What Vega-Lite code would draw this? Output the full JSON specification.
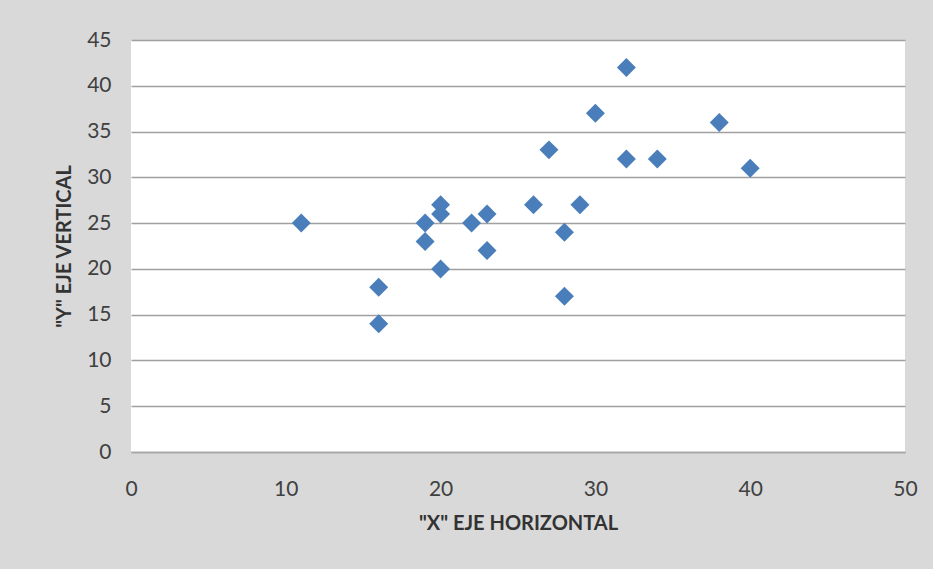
{
  "$schema": "https://vega.github.io/schema/vega-lite/v6.json",
  "autosize": {"type": "none"},
  "width": 774,
  "height": 412,
  "padding": {"left": 131, "top": 40, "right": 28, "bottom": 117},
  "background": "#d9d9d9",
  "config": {
    "view": {"stroke": null, "fill": "white"},
    "font": "Liberation Sans Narrow, Lato"
  },
  "data": {
    "values": [
      {"x": 11, "y": 25},
      {"x": 16, "y": 18},
      {"x": 16, "y": 14},
      {"x": 19, "y": 25},
      {"x": 19, "y": 23},
      {"x": 20, "y": 27},
      {"x": 20, "y": 26},
      {"x": 20, "y": 20},
      {"x": 22, "y": 25},
      {"x": 23, "y": 26},
      {"x": 23, "y": 22},
      {"x": 26, "y": 27},
      {"x": 27, "y": 33},
      {"x": 28, "y": 24},
      {"x": 28, "y": 17},
      {"x": 29, "y": 27},
      {"x": 30, "y": 37},
      {"x": 32, "y": 42},
      {"x": 32, "y": 32},
      {"x": 34, "y": 32},
      {"x": 38, "y": 36},
      {"x": 40, "y": 31}
    ]
  },
  "mark": {"type": "point", "shape": "diamond", "filled": true, "opacity": 1, "color": "#4a7ebb", "size": 360},
  "encoding": {
    "x": {
      "field": "x", "type": "quantitative",
      "scale": {"domain": [0, 50], "nice": false},
      "axis": {
        "values": [0, 10, 20, 30, 40, 50],
        "title": "\"X\" EJE HORIZONTAL",
        "grid": false, "ticks": false,
        "domain": true, "domainColor": "#a6a6a6", "domainWidth": 1.5,
        "labelFontSize": 21, "labelColor": "#404040", "labelPadding": 26,
        "labelFlush": false,
        "titleFontSize": 20, "titleFontWeight": "bold", "titleColor": "#333333",
        "titlePadding": 14
      }
    },
    "y": {
      "field": "y", "type": "quantitative",
      "scale": {"domain": [0, 45], "nice": false},
      "axis": {
        "values": [0, 5, 10, 15, 20, 25, 30, 35, 40, 45],
        "title": "\"Y\" EJE VERTICAL",
        "grid": true, "gridColor": "#a0a0a0", "gridWidth": 1.5,
        "ticks": false, "domain": false,
        "labelFontSize": 21, "labelColor": "#404040", "labelPadding": 20,
        "titleFontSize": 20, "titleFontWeight": "bold", "titleColor": "#333333",
        "titlePadding": 12
      }
    }
  }
}
